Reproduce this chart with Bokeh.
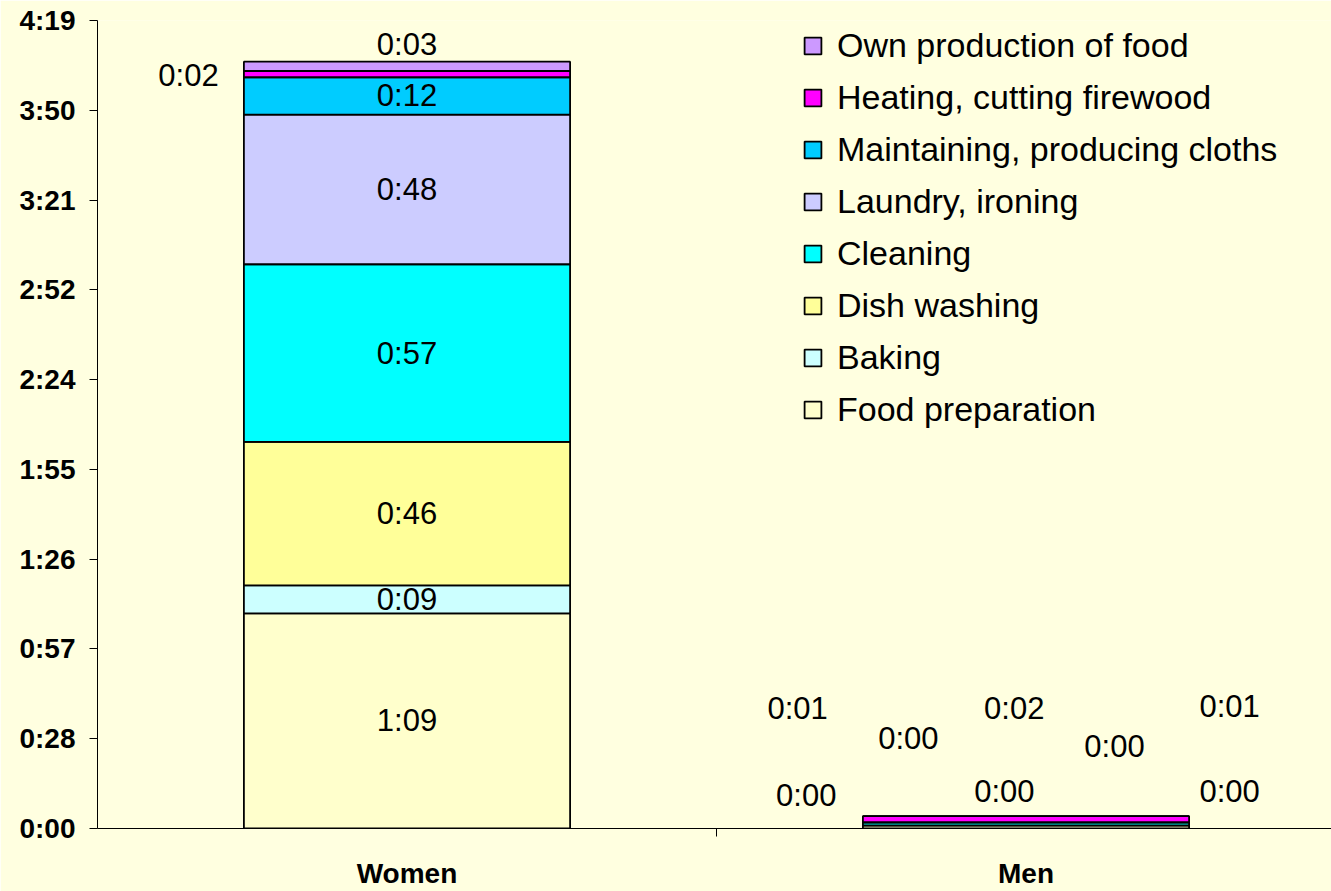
from bokeh.plotting import figure
from bokeh.models import ColumnDataSource, FixedTicker, Legend, LegendItem, Range1d
from bokeh.core.properties import value
from bokeh.embed import file_html
from bokeh.resources import INLINE

# ---- data ----
groups = ["Women", "Men"]
activities = ["Food preparation", "Baking", "Dish washing", "Cleaning",
              "Laundry, ironing", "Maintaining, producing cloths",
              "Heating, cutting firewood", "Own production of food"]
women_min = [69, 9, 46, 57, 48, 12, 2, 3]
men_min = [1, 0, 0, 1, 0, 0, 2, 0]
colors = ["#FFFFCC", "#CCFFFF", "#FFFF99", "#00FFFF",
          "#CCCCFF", "#00CCFF", "#FF00FF", "#CC99FF"]
y_ticks = [0, 28.8, 57.6, 86.4, 115.2, 144.0, 172.8, 201.6, 230.4, 259.2]
y_tick_labels = ["0:00", "0:28", "0:57", "1:26", "1:55", "2:24",
                 "2:52", "3:21", "3:50", "4:19"]

# label placement (manual placement as in the original chart), (x, y) in data units
women_label_pos = {6: (0.147, 241.6), 7: (0.5, 251.5)}
men_label_pos = [(1.131, 38.4), (1.145, 10.6), (1.310, 28.8), (1.829, 39.0),
                 (1.465, 11.8), (1.643, 26.2), (1.481, 38.4), (1.829, 11.8)]

BG = "#FFFFE0"
FONT = "Liberation Sans"


def fmt(m):
    return f"{m // 60}:{m % 60:02d}"


x_pos = [0.5, 1.5]
data = {"x": x_pos}
for a, w, m in zip(activities, women_min, men_min):
    data[a] = [w, m]
src = ColumnDataSource(data)

p = figure(width=1331, height=891, output_backend="svg", toolbar_location=None,
           x_range=Range1d(0, 1234 / 619), y_range=Range1d(0, 259.2),
           min_border_left=97, min_border_right=0, min_border_top=20,
           min_border_bottom=61)
p.background_fill_color = BG
p.border_fill_color = BG
p.outline_line_color = None
p.xgrid.grid_line_color = None
p.ygrid.grid_line_color = None

renderers = p.vbar_stack(activities, x="x", width=0.527, source=src,
                         fill_color=colors, line_color="black", line_width=1.8)

# data labels
lx, ly, lt = [], [], []
cum = 0
for i, w in enumerate(women_min):
    if i in women_label_pos:
        x, y = women_label_pos[i]
    else:
        x, y = 0.5, cum + w / 2
    lx.append(x); ly.append(y); lt.append(fmt(w))
    cum += w
for i, m in enumerate(men_min):
    x, y = men_label_pos[i]
    lx.append(x); ly.append(y); lt.append(fmt(m))
p.text(x=lx, y=ly, text=lt, text_align="center", text_baseline="middle",
       text_font=value(FONT), text_font_size="31px", text_color="black")

# axes
ya = p.yaxis[0]
ya.ticker = FixedTicker(ticks=y_ticks)
ya.major_label_overrides = {t: l for t, l in zip(y_ticks, y_tick_labels)}
ya.major_label_text_font = FONT
ya.major_label_text_font_style = "bold"
ya.major_label_text_font_size = "28px"
ya.major_label_text_color = "black"
ya.major_label_standoff = 14
ya.major_tick_out = 8
ya.major_tick_in = 0
ya.major_tick_line_color = "black"
ya.minor_tick_line_color = None
ya.axis_line_color = "black"

xa = p.xaxis[0]
xa.ticker = FixedTicker(ticks=x_pos, minor_ticks=[1.0])
xa.major_label_overrides = {t: g for t, g in zip(x_pos, groups)}
xa.major_label_text_font = FONT
xa.major_label_text_font_style = "bold"
xa.major_label_text_font_size = "28px"
xa.major_label_text_color = "black"
xa.major_label_standoff = 21
xa.major_tick_out = 0
xa.major_tick_in = 0
xa.minor_tick_out = 8
xa.minor_tick_in = 0
xa.minor_tick_line_color = "black"
xa.axis_line_color = "black"

# legend (reverse order: top of the stack first)
items = [LegendItem(label=a, renderers=[r]) for a, r in zip(activities, renderers)][::-1]
legend = Legend(items=items, location=(705, 399), padding=0, margin=0,
                border_line_color=None, background_fill_alpha=0,
                glyph_width=21, glyph_height=21, label_standoff=14,
                spacing=13, label_text_font=FONT, label_text_font_size="34px",
                label_text_color="black")
p.add_layout(legend)

open("out.html", "w").write(file_html(p, INLINE))
